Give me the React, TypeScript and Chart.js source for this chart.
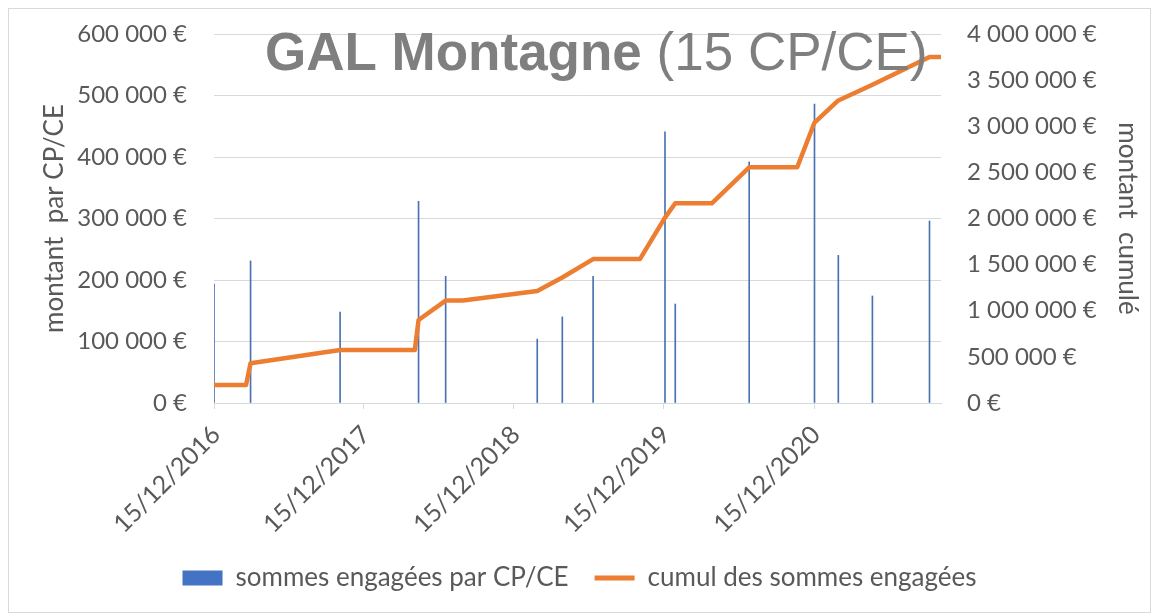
import React, { useEffect, useRef } from "react";
import { Chart, registerables } from "chart.js";

Chart.register(...registerables);

const D = (y: number, m: number, d: number) => Date.UTC(y, m - 1, d);

// Axis range and tick dates
const xMin = D(2016, 12, 15);
const xMax = D(2021, 10, 20);
const tickDates = [D(2016, 12, 15), D(2017, 12, 15), D(2018, 12, 15), D(2019, 12, 15), D(2020, 12, 15)];

// Bars: sums committed per CP/CE
const barDates = [
  D(2016, 12, 15), D(2017, 3, 14), D(2017, 10, 18), D(2018, 4, 27), D(2018, 7, 2),
  D(2019, 2, 10), D(2019, 4, 12), D(2019, 6, 26), D(2019, 12, 18), D(2020, 1, 12),
  D(2020, 7, 10), D(2020, 12, 16), D(2021, 2, 12), D(2021, 5, 6), D(2021, 9, 22),
];
const barValues = [
  193500, 231000, 148000, 328000, 206000,
  104000, 140000, 206000, 441000, 161000,
  392000, 486000, 240000, 174000, 296000,
];

// Line: cumulative sums
const lineDates = [
  D(2016, 12, 15), D(2017, 3, 3), D(2017, 3, 14), D(2017, 10, 18), D(2018, 4, 18),
  D(2018, 4, 27), D(2018, 7, 2), D(2018, 8, 13), D(2019, 2, 10), D(2019, 4, 12),
  D(2019, 6, 26), D(2019, 10, 18), D(2019, 12, 18), D(2020, 1, 12), D(2020, 4, 10),
  D(2020, 7, 10), D(2020, 11, 4), D(2020, 12, 16), D(2021, 2, 12), D(2021, 5, 6),
  D(2021, 9, 22), D(2021, 10, 20),
];
const lineValues = [
  195000, 195000, 430000, 575000, 575000,
  900000, 1110000, 1110000, 1215000, 1360000,
  1560000, 1560000, 2010000, 2165000, 2165000,
  2555000, 2555000, 3040000, 3280000, 3450000,
  3750000, 3750000,
];

const barLabel = "sommes engagées par CP/CE";
const lineLabel = "cumul des sommes engagées";
const leftTitle = "montant  par CP/CE";
const rightTitle = "montant  cumulé";
const titleBold = "GAL Montagne";
const titleRest = "(15 CP/CE)";

const FONT = "Lato, 'Open Sans', sans-serif";
const GREY = "#595959";

const euro = (v: number) => String(Math.round(v)).replace(/\B(?=(\d{3})+(?!\d))/g, " ") + " €";
const fmtDate = (v: number) => {
  const d = new Date(v);
  const dd = String(d.getUTCDate()).padStart(2, "0");
  const mm = String(d.getUTCMonth() + 1).padStart(2, "0");
  return `${dd}/${mm}/${d.getUTCFullYear()}`;
};

const titlePlugin = {
  id: "mixedTitle",
  afterDraw(chart: any) {
    const ctx = chart.ctx;
    ctx.save();
    ctx.fillStyle = "#7f7f7f";
    ctx.textBaseline = "alphabetic";
    ctx.textAlign = "left";
    const x = 256;
    const y = 61;
    ctx.font = "bold 53px 'Liberation Sans', Arial, sans-serif";
    ctx.fillText(titleBold, x, y);
    const w = ctx.measureText(titleBold).width;
    ctx.font = "53px 'Liberation Sans', Arial, sans-serif";
    const sp = ctx.measureText(" ").width;
    ctx.fillText(titleRest, x + w + sp, y);
    ctx.restore();
  },
};

export default function App() {
  const ref = useRef<HTMLCanvasElement>(null);
  useEffect(() => {
    if (!ref.current) return;
    const chart = new Chart(ref.current, {
      type: "bar",
      data: {
        datasets: [
          {
            type: "bar",
            label: barLabel,
            data: barDates.map((d, i) => ({ x: d, y: barValues[i] })),
            backgroundColor: "#4a72b0",
            borderWidth: 0,
            barThickness: 1,
            yAxisID: "y",
            order: 1,
          } as any,
          {
            type: "line",
            label: lineLabel,
            data: lineDates.map((d, i) => ({ x: d, y: lineValues[i] })),
            borderColor: "#ED7D31",
            backgroundColor: "#ED7D31",
            borderWidth: 4.5,
            pointRadius: 0,
            tension: 0,
            fill: false,
            borderJoinStyle: "round",
            yAxisID: "y1",
            order: 0,
          } as any,
        ],
      },
      options: {
        responsive: false,
        animation: false,
        layout: { padding: { top: 25, bottom: 11, left: 0, right: 0 } },
        plugins: {
          tooltip: { enabled: false },
          legend: {
            position: "bottom",
            labels: {
              usePointStyle: true,
              pointStyleWidth: 40,
              boxHeight: 15,
              padding: 26,
              color: GREY,
              font: { family: FONT, size: 26 },
              sort: (a: any, b: any) => a.datasetIndex - b.datasetIndex,
              generateLabels: (chart: any) => {
                const items = Chart.defaults.plugins.legend.labels.generateLabels(chart);
                return items.map((it: any) => {
                  if (it.datasetIndex === 0) {
                    return { ...it, pointStyle: "rect", fillStyle: "#4472C4", strokeStyle: "#4472C4", lineWidth: 0 };
                  }
                  return { ...it, pointStyle: "line", fillStyle: "#ED7D31", strokeStyle: "#ED7D31", lineWidth: 5 };
                });
              },
            },
          },
        },
        scales: {
          x: {
            type: "linear",
            offset: false,
            min: xMin,
            max: xMax,
            afterBuildTicks: (s: any) => {
              s.ticks = tickDates.map((v) => ({ value: v }));
            },
            afterFit: (s: any) => {
              s.height = 136;
            },
            ticks: {
              autoSkip: false,
              maxRotation: 45,
              minRotation: 45,
              padding: 11,
              labelOffset: 2,
              color: GREY,
              font: { family: FONT, size: 25 },
              callback: (v: any) => fmtDate(Number(v)),
            },
            grid: { offset: false, drawOnChartArea: false, drawTicks: true, tickLength: 6, color: "#d9d9d9" },
            border: { color: "#d9d9d9" },
          },
          y: {
            position: "left",
            min: 0,
            max: 600000,
            afterFit: (s: any) => {
              s.width = 205;
            },
            ticks: {
              stepSize: 100000,
              padding: 3,
              color: GREY,
              font: { family: FONT, size: 24 },
              callback: (v: any) => euro(Number(v)),
            },
            grid: { color: "#d9d9d9", drawTicks: true, tickLength: 24, tickColor: "rgba(0,0,0,0)" },
            border: { display: false },
            title: {
              display: true,
              text: leftTitle,
              color: GREY,
              font: { family: FONT, size: 26 },
              padding: { top: 30, bottom: 0 },
            },
          },
          y1: {
            position: "right",
            min: 0,
            max: 4000000,
            afterFit: (s: any) => {
              s.width = 209;
            },
            ticks: {
              stepSize: 500000,
              padding: 3,
              color: GREY,
              font: { family: FONT, size: 24 },
              callback: (v: any) => euro(Number(v)),
            },
            grid: { drawOnChartArea: false, drawTicks: true, tickLength: 23, tickColor: "rgba(0,0,0,0)" },
            border: { display: false },
            title: {
              display: true,
              text: rightTitle,
              color: GREY,
              font: { family: FONT, size: 26 },
              padding: { top: 7, bottom: 0 },
            },
          },
        },
      } as any,
      plugins: [titlePlugin],
    });
    return () => chart.destroy();
  }, []);

  return (
    <div style={{ border: "1px solid #d9d9d9", width: 1141, height: 603, background: "#fff" }}>
      <canvas ref={ref} width={1141} height={603} style={{ display: "block", width: 1141, height: 603 }} />
    </div>
  );
}
